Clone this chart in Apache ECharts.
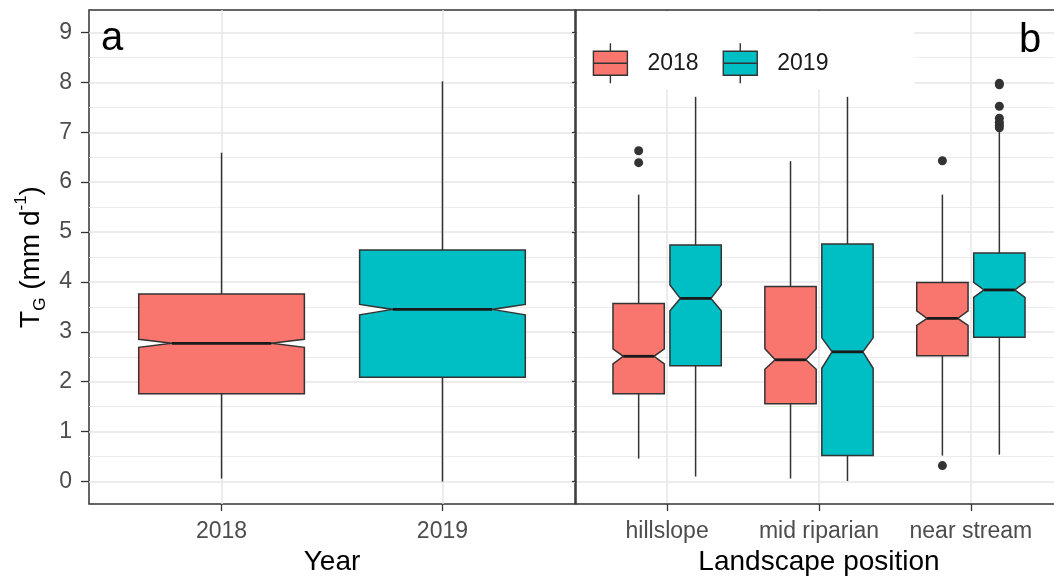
<!DOCTYPE html>
<html>
<head>
<meta charset="utf-8">
<script src="https://cdn.jsdelivr.net/npm/echarts@6/dist/echarts.min.js"></script>
<style>
  html, body { margin: 0; padding: 0; background: #ffffff; overflow: hidden; }
  /* the right-hand panel runs past the visible edge, so the canvas is a little wider than the window */
  #chart { width: 1070px; height: 578px; }
</style>
</head>
<body>
<div id="chart"></div>
<script>
// ---- data ----
const years = ['2018', '2019'];
const positions = ['hillslope', 'mid riparian', 'near stream'];
const yTicks = [0, 1, 2, 3, 4, 5, 6, 7, 8, 9];
const yMinorTicks = [0.5, 1.5, 2.5, 3.5, 4.5, 5.5, 6.5, 7.5, 8.5];

// box statistics: [lower whisker, Q1, notch low, median, notch high, Q3, upper whisker]
const byYear2018 = [0.06, 1.76, 2.69, 2.77, 2.85, 3.76, 6.59];
const byYear2019 = [0.00, 2.09, 3.34, 3.45, 3.55, 4.64, 8.02];

const byPosition2018 = [
  [0.46, 1.76, 2.36, 2.51, 2.66, 3.57, 5.75],
  [0.06, 1.56, 2.25, 2.44, 2.66, 3.91, 6.42],
  [0.52, 2.52, 3.13, 3.27, 3.42, 3.99, 5.75]
];
const byPosition2019 = [
  [0.10, 2.32, 3.42, 3.67, 3.94, 4.74, 7.71],
  [0.01, 0.52, 2.27, 2.60, 2.88, 4.76, 7.71],
  [0.54, 2.89, 3.69, 3.84, 3.99, 4.58, 7.05]
];

// outliers: [position index, value]
const outliers2018 = [[0, 6.63], [0, 6.39], [2, 6.43], [2, 0.32]];
const outliers2019 = [[2, 7.98], [2, 7.95], [2, 7.52], [2, 7.28], [2, 7.20], [2, 7.14], [2, 7.09]];

// ---- styling ----
const FONT = "'Liberation Sans', Arial, sans-serif";
const COLORS = { '2018': '#F8766D', '2019': '#00BFC4' };
const LINE = '#333333';
const NOTCH_RATIO = 0.6;      // width of the notch waist relative to the box
const HALF_WIDE = 0.375;      // half box width, one box per category
const HALF_DODGED = 0.169;    // half box width, two dodged boxes per category
const DODGE = 0.1875;         // offset of dodged boxes from the category centre
const Y_MIN = -0.45, Y_MAX = 9.45;

function notchedBox(halfWidth) {
  return function (params, api) {
    const x = api.value(0);
    const low = api.value(1), q1 = api.value(2), nLo = api.value(3), med = api.value(4),
          nHi = api.value(5), q3 = api.value(6), high = api.value(7);
    const left = api.coord([x - halfWidth, med])[0];
    const right = api.coord([x + halfWidth, med])[0];
    const cx = api.coord([x, med])[0];
    const py = v => api.coord([x, v])[1];
    const inset = (right - left) * (1 - NOTCH_RATIO) / 2;
    const fill = api.visual('color');
    return {
      type: 'group',
      children: [
        { type: 'line', shape: { x1: cx, y1: py(q3), x2: cx, y2: py(high) }, style: { stroke: LINE, lineWidth: 1.5 } },
        { type: 'line', shape: { x1: cx, y1: py(q1), x2: cx, y2: py(low) }, style: { stroke: LINE, lineWidth: 1.5 } },
        {
          type: 'polygon',
          shape: { points: [
            [left, py(q1)], [left, py(nLo)], [left + inset, py(med)], [left, py(nHi)], [left, py(q3)],
            [right, py(q3)], [right, py(nHi)], [right - inset, py(med)], [right, py(nLo)], [right, py(q1)]
          ] },
          style: { fill: fill, stroke: LINE, lineWidth: 1.5 }
        },
        { type: 'line', shape: { x1: left + inset, y1: py(med), x2: right - inset, y2: py(med) }, style: { stroke: '#1a1a1a', lineWidth: 2.8 } }
      ]
    };
  };
}

function boxSeries(name, gridIdx, data, halfWidth) {
  return {
    type: 'custom', name: name,
    xAxisIndex: gridIdx, yAxisIndex: gridIdx * 2,
    itemStyle: { color: COLORS[name], borderColor: LINE, borderWidth: 1.3 },
    encode: { x: 0, y: [1, 2, 3, 4, 5, 6, 7] },
    renderItem: notchedBox(halfWidth),
    data: data,
    silent: true
  };
}

function outlierSeries(name, gridIdx, data) {
  return {
    type: 'scatter', name: name,
    xAxisIndex: gridIdx, yAxisIndex: gridIdx * 2,
    symbol: 'circle', symbolSize: 9,
    itemStyle: { color: '#333333', opacity: 1 },
    data: data, silent: true, z: 3
  };
}

const tickLabel = { fontSize: 23, color: '#4d4d4d', fontFamily: FONT };
const majorGrid = { show: true, lineStyle: { color: '#e6e6e6', width: 1.5 } };
const minorGrid = { show: true, lineStyle: { color: '#ececec', width: 1.2 } };
const frameLine = { color: LINE, width: 1.5 };

function xAxis(gridIdx, cats, name, withLine) {
  const vals = cats.map((c, i) => i + 1);
  return {
    type: 'value', gridIndex: gridIdx, position: 'bottom',
    min: 0.4, max: cats.length + 0.6,
    axisLine: { show: withLine, onZero: false, lineStyle: frameLine },
    axisTick: { show: true, customValues: vals, length: 7, lineStyle: { color: LINE, width: 1.3 } },
    axisLabel: Object.assign({ customValues: vals, margin: 16, formatter: v => cats[Math.round(v) - 1] || '' }, tickLabel),
    splitLine: majorGrid,
    name: name, nameLocation: 'middle', nameGap: 44,
    nameTextStyle: { fontSize: 28, color: '#000000', fontFamily: FONT }
  };
}

// plain line along the top edge of the right-hand panel
function topFrame(gridIdx, cats) {
  return {
    type: 'value', gridIndex: gridIdx, position: 'top',
    min: 0.4, max: cats.length + 0.6,
    axisLine: { show: true, onZero: false, lineStyle: frameLine },
    axisTick: { show: false }, axisLabel: { show: false }, splitLine: { show: false }
  };
}

function yMajor(gridIdx, withLabels) {
  const ax = {
    type: 'value', gridIndex: gridIdx, min: Y_MIN, max: Y_MAX, position: 'left',
    axisLine: { show: !withLabels, onZero: false, lineStyle: frameLine },
    axisTick: { show: true, customValues: yTicks, length: withLabels ? 8 : 4, lineStyle: { color: LINE, width: 1.3 } },
    axisLabel: Object.assign({ show: withLabels, customValues: yTicks, margin: 17 }, tickLabel),
    splitLine: majorGrid
  };
  if (withLabels) {
    ax.name = '{t|T}{sub|G}{t| (mm d}{sup|-1}{t|)}';
    ax.nameLocation = 'middle';
    ax.nameRotate = 90;
    ax.nameGap = 40;
    ax.nameTextStyle = {
      fontSize: 28, color: '#000000', fontFamily: FONT,
      rich: {
        t: { fontSize: 28, lineHeight: 36, color: '#000000', fontFamily: FONT },
        sub: { fontSize: 17, lineHeight: 17, verticalAlign: 'bottom', color: '#000000', fontFamily: FONT },
        sup: { fontSize: 17, lineHeight: 17, verticalAlign: 'top', color: '#000000', fontFamily: FONT }
      }
    };
  }
  return ax;
}

function yMinor(gridIdx) {
  return {
    type: 'value', gridIndex: gridIdx, min: Y_MIN, max: Y_MAX,
    axisLine: { show: false, onZero: false },
    axisTick: { show: false, customValues: yMinorTicks },
    axisLabel: { show: false, customValues: yMinorTicks },
    splitLine: minorGrid
  };
}

const option = {
  animation: false,
  backgroundColor: '#ffffff',
  title: [
    { text: 'a', left: 101, top: 19, padding: 0, textStyle: { fontSize: 40, fontWeight: 'normal', color: '#000000', fontFamily: FONT } },
    { text: 'b', left: 1019, top: 21, padding: 0, textStyle: { fontSize: 40, fontWeight: 'normal', color: '#000000', fontFamily: FONT } }
  ],
  legend: {
    data: years,
    left: 578, top: 12,
    orient: 'horizontal',
    itemWidth: 34, itemHeight: 40, itemGap: 24,
    icon: 'path://M17,0L17,8M0,8L34,8L34,32L0,32ZM0,20L34,20M17,32L17,40',
    itemStyle: { borderColor: LINE, borderWidth: 1.4 },
    textStyle: { fontSize: 23, color: '#1a1a1a', fontFamily: FONT, padding: [0, 0, 0, 15] },
    backgroundColor: '#ffffff',
    padding: [30.5, 86, 5.5, 14.7],
    selectedMode: false,
    z: 5
  },
  grid: [
    { left: 89, top: 10, width: 486, height: 494, show: true, borderColor: LINE, borderWidth: 1.5, backgroundColor: '#ffffff', outerBoundsMode: 'none' },
    { left: 576, top: 10, width: 486, height: 494, show: false, outerBoundsMode: 'none' }
  ],
  xAxis: [
    xAxis(0, years, 'Year', false),
    xAxis(1, positions, 'Landscape position', true),
    topFrame(1, positions)
  ],
  yAxis: [
    yMajor(0, true), yMinor(0),
    yMajor(1, false), yMinor(1)
  ],
  series: [
    boxSeries('2018', 0, [[1].concat(byYear2018)], HALF_WIDE),
    boxSeries('2019', 0, [[2].concat(byYear2019)], HALF_WIDE),
    boxSeries('2018', 1, byPosition2018.map((s, i) => [i + 1 - DODGE].concat(s)), HALF_DODGED),
    boxSeries('2019', 1, byPosition2019.map((s, i) => [i + 1 + DODGE].concat(s)), HALF_DODGED),
    outlierSeries('outliers 2018', 1, outliers2018.map(o => [o[0] + 1 - DODGE, o[1]])),
    outlierSeries('outliers 2019', 1, outliers2019.map(o => [o[0] + 1 + DODGE, o[1]]))
  ]
};

const chart = echarts.init(document.getElementById('chart'), null, { renderer: 'canvas' });
chart.setOption(option);
</script>
</body>
</html>
